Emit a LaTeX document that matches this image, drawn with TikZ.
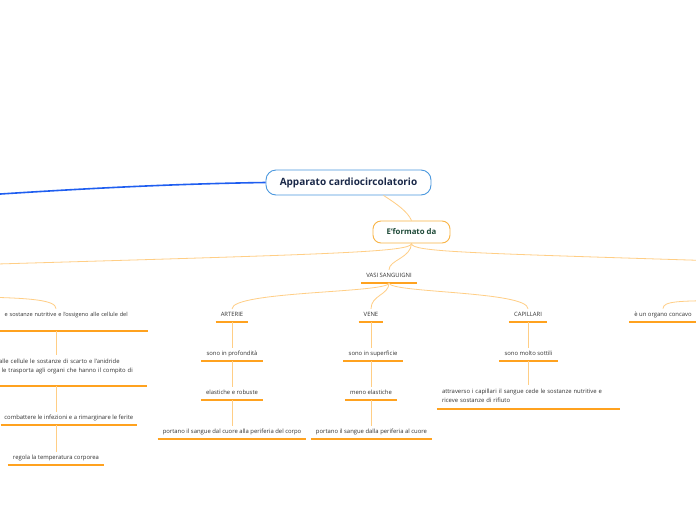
\documentclass[tikz,border=0pt]{standalone}
\usepackage{fontspec}
\setmainfont{Open Sans}
\usepackage{xcolor}
\usepackage{tikz}
\usetikzlibrary{calc}

\definecolor{mmorange}{HTML}{FFA21F}
\definecolor{mmlink}{HTML}{FFCE85}
\definecolor{mmblue}{HTML}{1F5EF0}
\definecolor{rootedge}{HTML}{4A98DE}
\definecolor{rootnavy}{HTML}{1A2848}
\definecolor{fmtedge}{HTML}{F9B446}
\definecolor{fmtgreen}{HTML}{1E4A38}
\definecolor{textgray}{HTML}{333333}

\begin{document}
\begin{tikzpicture}[x=1pt, y=-1pt,
  note/.style={anchor=south, inner xsep=5pt, inner ysep=3.5pt,
    text=textgray, font=\fontsize{5.9}{9.5}\selectfont},
  topic/.style={note, text depth=1.5pt},
  uline/.style={draw=mmorange, line width=1.3pt},
  link/.style={draw=mmlink, line width=0.8pt},
  rootlink/.style={draw=mmblue, line width=1.6pt}]

\path[use as bounding box, fill=white] (0,0) rectangle (696,520);
\clip (0,0) rectangle (696,520);

% Apparato cardiocircolatorio
\node[draw=rootedge, line width=0.9pt, rounded corners=10pt, fill=white,
   minimum width=165pt, minimum height=25pt, text=rootnavy,
   font=\bfseries\fontsize{10}{12}\selectfont] (root) at (348.5,182.5)
   {Apparato cardiocircolatorio};

% E'formato da
\node[draw=fmtedge, line width=0.9pt, rounded corners=8pt, fill=white,
   minimum width=77pt, minimum height=22pt, text=fmtgreen,
   font=\bfseries\fontsize{7.8}{9}\selectfont] (fmt) at (411.5,232)
   {E'formato da};

% left column (cut)
\node[topic, anchor=south east, text width=180pt, align=right, inner xsep=20pt,
   text depth=10.7pt, font=\fontsize{5.6}{9.5}\selectfont] (n1) at (148,331)
   {e sostanze nutritive e l'ossigeno alle cellule del};
\node[note, anchor=south west, text width=143pt, align=left] (n2) at (-6,386)
   {alle cellule le sostanze di scarto e l'anidride\\\hspace*{2.5pt}le trasporta agli organi che hanno il compito di\rule[-9.5pt]{0pt}{1pt}};
\node[topic, anchor=south east, inner xsep=3.5pt] (n3) at (137,425)
   {combattere le infezioni e a rimarginare le ferite};
\node[topic] (n4) at (56,465) {regola la temperatura corporea};

% Vasi sanguigni
\node[topic] (vasi) at (389,283) {VASI SANGUIGNI};

\node[topic] (art) at (232,322) {ARTERIE};
\node[topic] (art1) at (232,361) {sono in profondità};
\node[topic] (art2) at (232,400) {elastiche e robuste};
\node[topic] (art3) at (232,439) {portano il sangue dal cuore alla periferia del corpo};

\node[topic] (ven) at (371,322) {VENE};
\node[topic] (ven1) at (373,361) {sono in superficie};
\node[topic] (ven2) at (371,400) {meno elastiche};
\node[topic] (ven3) at (371.5,439) {portano il sangue dalla periferia al cuore};

\node[topic] (cap) at (528,322) {CAPILLARI};
\node[topic] (cap1) at (528.5,361) {sono molto sottili};
\node[note, text width=173pt, align=left] (cap2) at (528.5,409)
   {attraverso i capillari il sangue cede le sostanze nutritive e\\riceve sostanze di rifiuto\rule[-2.5pt]{0pt}{1pt}};

% right column (cut)
\node[topic] (conc) at (663,322) {è un organo concavo};

\foreach \n in {n1,n2,n3,n4,vasi,art,art1,art2,art3,ven,ven1,ven2,ven3,cap,cap1,cap2,conc}
   \draw[uline] (\n.south west) -- (\n.south east);

% connectors
\coordinate (leftcut) at (-30,196);
\coordinate (leftcut2) at (-20,264.5);
\coordinate (leftcut3) at (-20,297);
\coordinate (rightcut) at (720,261);
\coordinate (rightcut2) at (720,300.5);

\draw[rootlink] (root.west) .. controls (160,184) and (60,190) .. (leftcut);
\draw[link] ([xshift=35pt]root.south) .. controls (397,204) and (408,212) .. (fmt.north);

\draw[link] (fmt.south) .. controls (411,252) and (340,254) .. (leftcut2);
\draw[link] (fmt.south) .. controls (411,252) and (470,253) .. (rightcut);
\draw[link] (fmt.south) .. controls (411,258) and (389,260) .. (vasi.north);

\draw[link] (vasi.south) .. controls (389,293) and (232,291) .. (art.north);
\draw[link] (vasi.south) .. controls (389,295) and (371,295) .. (ven.north);
\draw[link] (vasi.south) .. controls (389,293) and (528,291) .. (cap.north);

\draw[link] (art.south) -- (art1.north);
\draw[link] (art1.south) -- (art2.north);
\draw[link] (art2.south) -- (art3.north);
\draw[link] (ven.south) -- (ven1.north -| ven);
\draw[link] (ven1.south -| ven) -- (ven2.north);
\draw[link] (ven2.south) -- (ven3.north -| ven);
\draw[link] (cap.south) -- (cap1.north -| cap);
\draw[link] (cap1.south -| cap) -- (cap2.north -| cap);

\draw[link] (leftcut3) .. controls (30,298) and (56,300) .. (n1.north -| n4);
\draw[link] (n1.south -| n4) -- (n2.north -| n4);
\draw[link] (n2.south -| n4) -- (n3.north -| n4);
\draw[link] (n3.south -| n4) -- (n4.north);

\draw[link] (rightcut2) .. controls (680,301) and (663,301) .. (conc.north);
\end{tikzpicture}
\end{document}
